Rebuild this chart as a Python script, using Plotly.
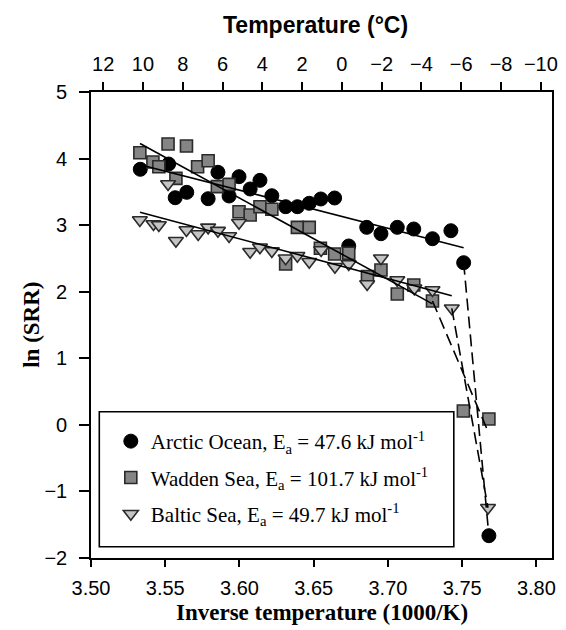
import numpy as np
import plotly.graph_objects as go

# ---------------- data ----------------
arctic_x = [3.5332, 3.5523, 3.5567, 3.5645, 3.5789, 3.5855, 3.5930, 3.5997, 3.6072, 3.6138,
            3.6218, 3.6311, 3.6390, 3.6470, 3.6548, 3.6641, 3.6736, 3.6857, 3.6953, 3.7063,
            3.7174, 3.7300, 3.7424, 3.7510, 3.7680]
arctic_y = [3.839, 3.918, 3.412, 3.493, 3.397, 3.794, 3.438, 3.728, 3.543, 3.673,
            3.442, 3.277, 3.277, 3.328, 3.393, 3.408, 2.687, 2.967, 2.871, 2.967,
            2.942, 2.796, 2.916, 2.436, -1.665]

wadden_x = [3.5329, 3.5519, 3.5643, 3.5417, 3.5457, 3.5572, 3.5718, 3.5789, 3.5851, 3.5930,
            3.5997, 3.6072, 3.6138, 3.6218, 3.6311, 3.6390, 3.6470, 3.6545, 3.6641, 3.6736,
            3.6862, 3.6953, 3.7063, 3.7174, 3.7300, 3.7508, 3.7680]
wadden_y = [4.088, 4.219, 4.189, 3.948, 3.878, 3.703, 3.878, 3.968, 3.578, 3.613,
            3.202, 3.152, 3.277, 3.238, 2.416, 2.967, 2.967, 2.652, 2.566, 2.577,
            2.226, 2.326, 1.966, 2.101, 1.861, 0.208, 0.088]

baltic_x = [3.5329, 3.5421, 3.5457, 3.5519, 3.5572, 3.5643, 3.5722, 3.5789, 3.5855, 3.5930,
            3.5997, 3.6072, 3.6138, 3.6218, 3.6311, 3.6390, 3.6470, 3.6550, 3.6643, 3.6736,
            3.6860, 3.6953, 3.7063, 3.7178, 3.7300, 3.7430, 3.7674]
baltic_y = [3.077, 3.017, 3.002, 3.618, 2.766, 2.927, 2.867, 2.967, 2.917, 2.837,
            3.037, 2.601, 2.667, 2.612, 2.502, 2.541, 2.451, 2.627, 2.376, 2.416,
            2.116, 2.502, 2.176, 2.051, 2.026, 1.751, -1.245]

# Arrhenius fits: slope = -Ea/R (kJ/mol, R in J/mol/K -> 1000/K axis)
R = 8.314
ea = {"arctic": 47.6, "wadden": 101.7, "baltic": 49.7}
fit_intercept = {"arctic": 24.136, "wadden": 47.444, "baltic": 24.315}
fit_xrange = {"arctic": [3.533, 3.751], "wadden": [3.533, 3.730], "baltic": [3.533, 3.743]}

# low-temperature break (dashed)
wadden_break_x = [3.7300, 3.7680]
wadden_break_y = [1.861, -0.13]

bottom_ticks = [3.50, 3.55, 3.60, 3.65, 3.70, 3.75, 3.80]
top_ticks = [12, 10, 8, 6, 4, 2, 0, -2, -4, -6, -8, -10]
y_ticks = [-2, -1, 0, 1, 2, 3, 4, 5]

labels = {
    "arctic": "Arctic Ocean, E<sub>a</sub> = 47.6 kJ mol<sup>-1</sup>",
    "wadden": "Wadden Sea, E<sub>a</sub> = 101.7 kJ mol<sup>-1</sup>",
    "baltic": "Baltic Sea, E<sub>a</sub> = 49.7 kJ mol<sup>-1</sup>",
}

# ---------------- figure ----------------
fig = go.Figure()
sans = "Liberation Sans, Arial, sans-serif"
serif = "Liberation Serif, Times New Roman, serif"

fig.add_trace(go.Scatter(x=arctic_x, y=arctic_y, mode="markers", name=labels["arctic"],
                         legendgroup="a",
                         marker=dict(symbol="circle", size=14, color="black",
                                     line=dict(color="black", width=1))))
fig.add_trace(go.Scatter(x=wadden_x, y=wadden_y, mode="markers", name=labels["wadden"],
                         legendgroup="w",
                         marker=dict(symbol="square", size=12, color="#858585",
                                     line=dict(color="#2a2a2a", width=1.6))))
fig.add_trace(go.Scatter(x=baltic_x, y=baltic_y, mode="markers", name=labels["baltic"],
                         legendgroup="b",
                         marker=dict(symbol="triangle-down", size=13, color="#c4c4c4",
                                     line=dict(color="#2a2a2a", width=1.6))))

for key in ["arctic", "wadden", "baltic"]:
    xs = np.array(fit_xrange[key])
    ys = fit_intercept[key] - ea[key] / R * xs
    fig.add_trace(go.Scatter(x=xs, y=ys, mode="lines", showlegend=False, hoverinfo="skip",
                             line=dict(color="black", width=1.6)))

dash_sets = [
    (arctic_x[-2:], arctic_y[-2:]),
    (wadden_break_x, wadden_break_y),
    (baltic_x[-2:], baltic_y[-2:]),
]
for dx, dy in dash_sets:
    fig.add_trace(go.Scatter(x=dx, y=dy, mode="lines", showlegend=False, hoverinfo="skip",
                             line=dict(color="black", width=1.6, dash="12px,6px")))

# invisible trace for the top temperature axis
fig.add_trace(go.Scatter(x=top_ticks, y=[None] * len(top_ticks), xaxis="x2", mode="markers",
                         showlegend=False, hoverinfo="skip", marker=dict(opacity=0)))

fig.update_layout(
    width=566, height=630,
    margin=dict(l=91, r=8, t=92, b=72),
    paper_bgcolor="white", plot_bgcolor="white",
    showlegend=True,
    xaxis=dict(range=[3.50, 3.8105], tickvals=bottom_ticks, tickformat=".2f",
               showline=True, linecolor="black", linewidth=1.6, mirror=True,
               ticks="outside", ticklen=7, tickwidth=1.5, tickcolor="black",
               showgrid=False, zeroline=False, ticklabelstandoff=4,
               tickfont=dict(family=sans, size=20, color="black")),
    xaxis2=dict(range=[12.61, -10.56], tickvals=top_ticks, overlaying="x", side="top",
                anchor="y", showline=True, linecolor="black", linewidth=1.6,
                ticks="outside", ticklen=8, tickwidth=1.5, tickcolor="black",
                showgrid=False, zeroline=False, ticklabelstandoff=3,
                tickfont=dict(family=sans, size=20, color="black")),
    yaxis=dict(range=[-2, 5], tickvals=y_ticks,
               showline=True, linecolor="black", linewidth=1.6, mirror=True,
               ticks="outside", ticklen=10, tickwidth=1.5, tickcolor="black",
               showgrid=False, zeroline=False, ticklabelstandoff=8,
               tickfont=dict(family=sans, size=20, color="black")),
    legend=dict(x=0.043, y=0.294, xanchor="left", yanchor="top",
                bgcolor="rgba(0,0,0,0)", borderwidth=0, tracegroupgap=6,
                font=dict(family=serif, size=21, color="black")),
    shapes=[dict(type="rect", xref="paper", yref="paper", x0=0.018, x1=0.787,
                 y0=0.024, y1=0.314, line=dict(color="black", width=1.6),
                 fillcolor="white", layer="below")],
    annotations=[
        dict(text="<b>Inverse temperature (1000/K)</b>", xref="paper", yref="paper",
             x=0.5, y=-0.118, xanchor="center", yanchor="middle", showarrow=False,
             font=dict(family=serif, size=23, color="black")),
        dict(text="<b>ln (SRR)</b>", xref="paper", yref="paper", textangle=-90,
             x=-0.1306, y=0.5, xanchor="center", yanchor="middle", showarrow=False,
             font=dict(family=serif, size=23, color="black")),
        dict(text="<b>Temperature (°C)</b>", xref="paper", yref="paper",
             x=0.486, y=1.1438, xanchor="center", yanchor="middle", showarrow=False,
             font=dict(family=sans, size=23, color="black")),
    ],
)

fig.write_html("out.html", config={"displayModeBar": False},
               post_script="document.body.style.margin='0';document.body.style.padding='0';")
